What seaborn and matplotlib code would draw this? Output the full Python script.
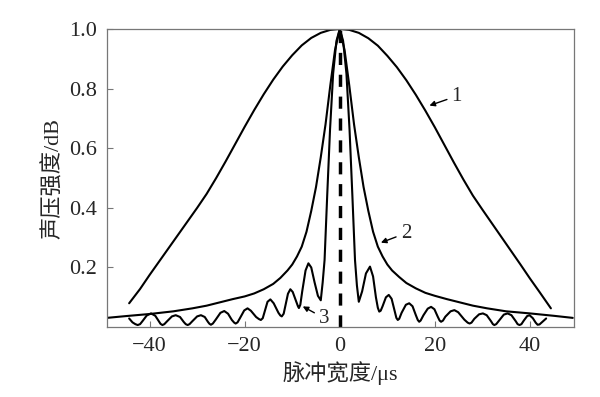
## ==========================================
## Sound pressure vs pulse width (curves 1, 2, 3)
## ==========================================

import numpy as np
import pandas as pd
import matplotlib
matplotlib.use("Agg")
import matplotlib.pyplot as plt
import seaborn as sns

## ==========================================
## Data
## ==========================================

curve1_x = [-44.3, -42, -40, -38, -36, -34, -32, -30, -28, -26, -24, -22, -20, -18, -16,
            -14, -12, -10, -8, -6, -4, -2, 0,
            2, 4, 6, 8, 10, 12, 14, 16, 18, 20, 22, 24, 26, 28, 30, 32, 34, 36, 38, 40,
            42, 44.4]
curve1_y = [0.08, 0.128, 0.175, 0.22, 0.265, 0.31, 0.355, 0.40, 0.447, 0.50, 0.556, 0.614,
            0.672, 0.728, 0.781, 0.83, 0.874, 0.912, 0.945, 0.97, 0.987, 0.997, 1.0,
            0.997, 0.987, 0.969, 0.944, 0.91, 0.872, 0.828, 0.779, 0.726, 0.67, 0.611,
            0.552, 0.495, 0.441, 0.394, 0.348, 0.302, 0.256, 0.21, 0.163, 0.118, 0.063]

curve2_x = [-49, -45, -40, -35, -31, -28, -25, -22.5, -20, -18, -16, -14, -12.5, -11,
            -10, -9, -8, -7, -6, -5, -4, -3, -2, -1, 0,
            1, 2, 3, 4, 5, 6, 7, 8, 9, 10, 11, 12.5, 14, 16, 18, 20,
            22.5, 25, 28, 31, 35, 40, 45, 49]
curve2_y = [0.031, 0.037, 0.044, 0.053, 0.063, 0.072, 0.084, 0.094, 0.103, 0.113, 0.127, 0.145,
            0.165, 0.19, 0.21, 0.237, 0.27, 0.32, 0.39, 0.47, 0.57, 0.68, 0.81, 0.93, 1.0,
            0.93, 0.81, 0.68, 0.57, 0.47, 0.39, 0.32, 0.27, 0.237, 0.21, 0.19, 0.168, 0.148,
            0.13, 0.115, 0.105, 0.094, 0.084, 0.072, 0.063, 0.053, 0.046, 0.038, 0.031]

curve3_x = [-44.3, -43.6, -43.0, -42.5, -42.0, -41.5, -40.6, -39.7, -38.8, -38.0, -37.7,
            -37.3, -36.9, -36.3, -35.3, -34.5, -33.6, -32.8, -32.4, -32.0, -31.6, -31.0,
            -30.0, -29.2, -28.4, -27.7, -27.4, -27.1, -26.7, -26.1, -25.1, -24.3, -23.5,
            -22.7, -22.2, -21.9, -21.5, -21.0, -20.1, -19.4, -18.7, -17.6, -17.0, -16.6,
            -16.2, -15.8, -15.2, -14.6, -13.9, -12.9, -12.5, -12.2, -11.8, -11.4, -10.9,
            -10.4, -9.9, -9.2, -8.8, -8.6, -8.3, -7.9, -7.2, -6.6, -6.0, -5.3, -4.6, -4.0,
            -3.6, -3.2, -2.65, -2.05, -1.4, -0.7, 0.0, 0.7, 1.4, 2.05, 2.65, 3.2, 3.6, 4.0,
            4.7, 5.5, 6.35, 7.0, 7.6, 8.0, 8.3, 8.6, 9.0, 9.7, 10.3, 10.9, 11.6, 11.9, 12.2,
            12.5, 13.0, 13.9, 14.6, 15.3, 16.0, 16.4, 16.7, 17.0, 17.6, 18.5, 19.2, 19.9,
            20.6, 21.0, 21.3, 21.7, 22.2, 23.3, 24.1, 24.9, 26.2, 26.9, 27.3, 27.7, 28.3,
            29.3, 30.1, 30.9, 31.8, 32.2, 32.5, 32.9, 33.5, 34.5, 35.3, 36.1, 37.0, 37.4,
            37.8, 38.2, 38.7, 39.4, 39.9, 40.6, 41.2, 41.6, 42.0, 42.5, 43.4]
curve3_y = [0.029, 0.016, 0.010, 0.007, 0.010, 0.020, 0.039, 0.046, 0.038, 0.018, 0.011,
            0.007, 0.010, 0.020, 0.036, 0.040, 0.034, 0.017, 0.010, 0.007, 0.010, 0.020,
            0.036, 0.040, 0.034, 0.017, 0.011, 0.008, 0.012, 0.025, 0.048, 0.054, 0.045,
            0.024, 0.015, 0.012, 0.016, 0.030, 0.056, 0.063, 0.055, 0.034, 0.027, 0.024,
            0.030, 0.052, 0.085, 0.093, 0.080, 0.048, 0.039, 0.036, 0.045, 0.075, 0.112,
            0.127, 0.118, 0.088, 0.070, 0.064, 0.075, 0.120, 0.190, 0.214, 0.200, 0.150,
            0.105, 0.090, 0.150, 0.225, 0.44, 0.663, 0.85, 0.96, 1.0, 0.96, 0.85, 0.663, 0.44,
            0.225, 0.140, 0.085, 0.120, 0.180, 0.203, 0.170, 0.100, 0.065, 0.052, 0.055, 0.070,
            0.100, 0.108, 0.095, 0.050, 0.031, 0.024, 0.028, 0.048, 0.075, 0.080, 0.070,
            0.040, 0.024, 0.018, 0.022, 0.040, 0.062, 0.068, 0.060, 0.035, 0.022, 0.018,
            0.022, 0.035, 0.053, 0.057, 0.050, 0.025, 0.015, 0.012, 0.015, 0.028, 0.043,
            0.046, 0.040, 0.020, 0.010, 0.007, 0.010, 0.022, 0.042, 0.046, 0.040, 0.020,
            0.010, 0.007, 0.010, 0.022, 0.037, 0.040, 0.030, 0.015, 0.008, 0.009, 0.016, 0.029]

x_ticks = [-40, -20, 0, 20, 40]
y_ticks = [0.2, 0.4, 0.6, 0.8, 1.0]
y_tick_labels = ["0.2", "0.4", "0.6", "0.8", "1.0"]

## ==========================================
## Style
## ==========================================

sns.set_style("ticks")
plt.rcParams["font.family"] = ["Liberation Serif", "Noto Sans CJK SC"]
plt.rcParams["axes.unicode_minus"] = True

fig = plt.figure(figsize=(6.0, 3.97), dpi=100)
ax = fig.add_axes([0.178, 0.176, 0.779, 0.751])

## ==========================================
## Curves
## ==========================================

df1 = pd.DataFrame({"x": curve1_x, "y": curve1_y})
df2 = pd.DataFrame({"x": curve2_x, "y": curve2_y})
df3 = pd.DataFrame({"x": curve3_x, "y": curve3_y})

for d in [df1, df2, df3]:
    sns.lineplot(data=d, x="x", y="y", ax=ax, color="black", linewidth=1.5, sort=False)

ax.axvline(0, color="black", linewidth=2.5, linestyle=(0, (3.5, 2.8)), zorder=1)

## ==========================================
## Labels / annotations
## ==========================================

arrow = dict(arrowstyle="-|>", color="black", lw=1.0, mutation_scale=8, shrinkA=1)
ax.annotate("1", xy=(18.3, 0.74), xytext=(23.5, 0.775), fontsize=15,
            va="center", ha="left", arrowprops=arrow)
ax.annotate("2", xy=(8.1, 0.28), xytext=(12.8, 0.315), fontsize=15,
            va="center", ha="left", arrowprops=arrow)
ax.annotate("3", xy=(-8.3, 0.074), xytext=(-4.4, 0.03), fontsize=15,
            va="center", ha="left", arrowprops=arrow)

ax.set_xlim(-49, 49.3)
ax.set_ylim(0, 1.0)
ax.set_xticks(x_ticks)
ax.set_yticks(y_ticks)
ax.set_yticklabels(y_tick_labels)

ax.set_xlabel("脉冲宽度/μs", fontsize=16, labelpad=4)
ax.set_ylabel("声压强度/dB", fontsize=16, labelpad=4)

ax.tick_params(direction="in", length=4, width=0.8, color="#777777",
               labelsize=16, pad=7)
for s in ax.spines.values():
    s.set_color("#777777")
    s.set_linewidth(0.9)

plt.savefig("out.png", dpi=100)
plt.close()
